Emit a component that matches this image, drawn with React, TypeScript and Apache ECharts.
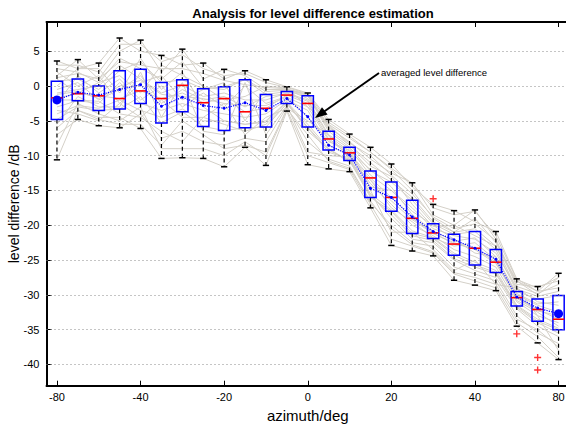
import React, { useEffect, useRef } from "react";
import * as echarts from "echarts";

const azimuths = ["-80","-70","-60","-50","-40","-35","-30","-25","-20","-15","-10","-5","0","5","10","15","20","25","30","35","40","50","60","70","80"];

const whiskerLow = [-10.6,-4.8,-5.7,-6.0,-6.1,-10.4,-10.3,-10.4,-11.6,-8.8,-11.4,-3.6,-11.3,-11.9,-12.3,-17.5,-22.9,-23.7,-24.4,-27.9,-28.6,-29.4,-34.5,-36.9,-39.3];
const quart1 = [-4.8,-2.1,-3.5,-3.3,-2.5,-5.3,-3.7,-5.8,-6.4,-6.0,-5.9,-2.5,-5.9,-9.2,-10.7,-16.0,-18.0,-21.2,-21.9,-24.3,-25.7,-26.8,-31.6,-33.8,-35.0];
const medians = [-1.7,-1.1,-1.4,-1.8,-0.7,-1.8,0.1,-2.4,-1.8,-3.7,-3.2,-1.3,-2.5,-7.6,-9.6,-13.2,-16.0,-19.0,-21.1,-22.7,-23.3,-25.3,-30.4,-32.1,-33.5];
const quart3 = [0.7,1.0,0.0,2.2,2.4,0.5,0.9,-0.4,-0.1,0.9,-1.2,-0.8,-1.4,-6.5,-8.8,-12.2,-13.8,-16.4,-19.8,-21.3,-20.9,-23.5,-29.5,-30.6,-30.1];
const whiskerHigh = [3.6,3.8,3.3,6.9,6.6,4.4,5.3,3.3,2.4,2.2,0.9,-0.1,-1.0,-4.8,-6.9,-8.8,-11.2,-13.9,-17.0,-17.9,-17.8,-20.9,-27.7,-28.8,-26.9];
const averaged = [-2.0,-0.9,-1.3,-0.5,0.2,-2.9,-1.6,-2.8,-3.2,-2.4,-3.5,-1.8,-4.4,-8.5,-9.9,-14.7,-16.0,-18.8,-20.9,-22.1,-23.3,-24.9,-30.3,-31.9,-32.7];
const outliers: [string, number][] = [["30",-16.2],["60",-35.6],["70",-39.0],["70",-40.8]];

const subjects: number[][] = [
  [3.6,2.5,3.3,6.9,5.0,4.4,3.0,3.3,1.0,2.2,0.9,-0.1,-1.0,-4.8,-6.9,-8.8,-11.2,-14.5,-17.0,-17.9,-19.5,-20.9,-27.7,-29.5,-26.9],
  [1.5,3.8,1.0,5.0,6.6,2.0,5.3,1.0,2.4,1.5,-0.5,-0.5,-1.2,-6.0,-8.0,-10.5,-12.5,-13.9,-18.5,-20.0,-17.8,-22.0,-28.5,-28.8,-28.0],
  [0.7,1.0,-0.5,2.2,3.5,0.5,0.9,-0.4,-0.1,0.9,-1.2,-0.8,-1.4,-6.5,-8.8,-12.2,-13.8,-16.4,-19.8,-21.3,-20.9,-23.5,-29.5,-30.6,-30.1],
  [-1.0,-0.5,0.0,3.0,1.0,-1.0,0.1,-1.5,-1.0,-2.0,-2.0,-1.0,-2.0,-7.0,-9.0,-12.8,-15.0,-17.5,-20.5,-21.5,-22.0,-24.0,-29.0,-31.0,-31.5],
  [-1.7,-1.1,-1.4,-1.8,-0.7,-1.8,-1.0,-2.4,-1.8,-3.7,-3.2,-1.3,-2.5,-7.6,-9.6,-13.2,-16.0,-19.0,-21.1,-22.7,-23.3,-25.3,-30.4,-32.1,-33.5],
  [-3.0,-2.1,-2.5,0.5,-2.5,-3.5,-2.5,-3.5,-4.0,-4.5,-4.0,-2.0,-3.5,-8.5,-10.0,-14.0,-17.0,-20.0,-21.5,-23.5,-24.5,-26.0,-31.0,-33.0,-34.0],
  [-4.8,-3.0,-3.5,-3.3,-1.5,-5.3,-3.7,-5.8,-6.4,-6.0,-5.9,-2.5,-5.9,-9.2,-10.7,-16.0,-18.0,-21.2,-21.9,-24.3,-25.7,-26.8,-31.6,-33.8,-35.0],
  [-7.0,-4.8,-5.7,-6.0,-4.0,-7.5,-6.5,-8.0,-8.5,-7.5,-8.0,-3.0,-8.0,-10.5,-11.5,-16.8,-20.0,-22.5,-23.0,-26.0,-27.0,-28.0,-33.0,-35.5,-37.0],
  [-10.6,-3.5,-4.5,-4.5,-6.1,-10.4,-10.3,-10.4,-11.6,-8.8,-11.4,-3.6,-11.3,-11.9,-12.3,-17.5,-22.9,-23.7,-24.4,-27.9,-28.6,-29.4,-34.5,-36.9,-39.3],
  [2.0,0.0,1.5,-2.5,0.5,1.5,-2.0,-0.5,0.5,-5.0,-0.5,-0.5,-1.8,-5.5,-7.5,-9.5,-12.0,-15.0,-19.0,-21.0,-19.0,-22.5,-28.0,-29.5,-29.0],
  [-2.5,1.5,-1.0,1.0,-2.0,0.0,-3.0,-1.0,-3.0,0.0,-2.5,-1.5,-4.5,-8.0,-9.2,-14.5,-15.0,-18.0,-20.0,-22.0,-24.0,-24.5,-30.0,-31.5,-32.5],
  [-5.5,-1.5,-3.0,-3.0,2.0,-4.5,0.5,-6.5,-7.0,0.5,-7.0,-2.8,-9.5,-10.0,-10.2,-15.5,-19.0,-22.0,-22.5,-25.0,-26.5,-27.5,-32.0,-34.5,-36.0],
  [0.0,2.5,2.5,-1.0,4.0,-0.5,2.0,-3.0,-5.0,-5.5,-5.0,-2.2,-6.5,-9.0,-11.0,-13.5,-17.5,-19.5,-21.8,-23.0,-22.5,-25.0,-30.8,-32.5,-34.5],
  [-3.5,-4.0,-5.0,-2.5,-4.5,-6.5,-8.0,-4.5,-2.5,-7.0,-4.5,-3.2,-5.0,-7.0,-10.5,-15.0,-21.0,-21.0,-23.5,-26.5,-25.0,-28.5,-29.0,-33.0,-38.0],
  [1.0,-1.0,0.5,1.5,-1.0,3.0,1.5,0.0,-2.0,-1.5,0.0,-0.3,-3.0,-5.5,-8.5,-11.5,-13.0,-17.0,-20.2,-20.0,-21.5,-23.0,-28.0,-30.0,-27.5],
  [-8.5,-2.5,-4.0,-5.0,-3.0,-9.0,-9.0,-9.0,-10.0,-8.0,-10.0,-3.4,-10.0,-11.0,-12.0,-17.0,-22.0,-23.0,-24.0,-27.0,-28.0,-29.0,-34.0,-36.0,-39.0],
  [3.0,3.0,2.0,6.0,6.0,3.5,4.5,2.5,1.5,1.8,0.5,-0.2,-1.1,-5.2,-7.2,-9.5,-11.8,-14.0,-17.5,-18.5,-18.0,-21.5,-27.8,-29.0,-27.5],
  [-0.5,0.5,-2.0,-0.5,1.5,-2.5,-0.5,-2.0,-1.5,-3.0,-1.5,-1.1,-2.2,-7.2,-9.4,-12.0,-14.5,-18.5,-20.8,-22.3,-21.8,-24.5,-29.8,-31.3,-31.0],
  [-2.0,-2.0,-2.2,-4.0,-4.5,-2.0,-4.5,-4.5,-5.5,-6.5,-5.5,-2.6,-6.0,-9.5,-10.5,-15.8,-18.5,-21.5,-22.2,-24.8,-26.0,-27.0,-31.8,-34.0,-35.5],
  [2.5,2.0,0.5,4.0,2.5,1.0,3.5,-0.2,-0.5,1.0,-0.8,-0.6,-1.3,-6.2,-8.5,-11.0,-13.5,-16.0,-19.5,-21.0,-20.5,-23.0,-29.2,-30.2,-29.5],
  [-6.0,-3.5,-4.8,-5.5,-5.5,-8.5,-5.0,-7.0,-9.0,-8.5,-9.5,-3.3,-7.0,-10.8,-11.8,-16.5,-20.5,-22.8,-23.8,-26.8,-27.5,-28.5,-33.5,-35.0,-37.5],
  [-1.2,-0.8,-1.8,0.0,0.8,-1.2,-1.5,-1.8,-2.5,-2.8,-2.8,-1.6,-3.0,-7.8,-9.8,-13.5,-16.5,-19.2,-21.2,-22.5,-23.5,-25.5,-30.5,-32.3,-33.0],
  [1.2,1.8,1.0,3.5,3.0,2.5,2.5,1.8,0.8,0.2,-0.2,-0.4,-1.2,-5.8,-8.2,-10.0,-12.8,-15.5,-18.8,-20.5,-19.8,-22.2,-28.8,-29.8,-28.5],
  [-4.0,-2.8,-3.2,-2.0,-3.5,-4.5,-3.3,-5.0,-5.0,-5.5,-5.2,-2.3,-5.5,-9.0,-10.8,-15.5,-17.8,-20.8,-21.8,-24.0,-25.3,-26.5,-31.5,-33.5,-34.8],
];

const yTicks = [-40,-35,-30,-25,-20,-15,-10,-5,0,5];

const FONT = "Liberation Sans";

export default function App() {
  const ref = useRef<HTMLDivElement>(null);
  useEffect(() => {
    document.body.style.margin = "0";
    if (!ref.current) return;
    const chart = echarts.init(ref.current, null, { renderer: "svg" });
    const boxes = azimuths.map((_, i) => [i, whiskerLow[i], quart1[i], medians[i], quart3[i], whiskerHigh[i]]);
    const catAxis = (top: boolean) => ({
      type: "category",
      data: azimuths,
      position: top ? "top" : "bottom",
      boundaryGap: true,
      axisLine: { show: true, onZero: false, lineStyle: { color: "#000", width: 2 } },
      axisTick: { show: true, inside: true, interval: 3, alignWithLabel: true, length: 5, lineStyle: { color: "#000", width: 1 } },
      axisLabel: top ? { show: false } : { interval: 3, color: "#000", fontSize: 11, margin: 6, fontFamily: FONT },
      splitLine: { show: false },
      name: top ? "" : "azimuth/deg",
      nameLocation: "middle",
      nameGap: 18,
      nameTextStyle: { fontSize: 15, color: "#000", fontFamily: FONT },
    });
    const series: any[] = subjects.map((s, k) => ({
      type: "line",
      data: s,
      symbol: "none",
      silent: true,
      z: 1,
      lineStyle: { color: "#d4d0c8", width: 1 },
      ...(k === 0
        ? {
            markLine: {
              silent: true,
              symbol: "none",
              label: { show: false },
              lineStyle: { color: "#8a8a8a", width: 1, type: [1, 3] },
              data: yTicks.map((v) => ({ yAxis: v })),
            },
          }
        : {}),
    }));
    series.push({
      type: "custom",
      data: boxes,
      z: 3,
      encode: { x: 0, y: [1, 2, 3, 4, 5] },
      renderItem: (_p: any, api: any) => {
        const x = api.value(0);
        const lo = api.coord([x, api.value(1)]);
        const b1 = api.coord([x, api.value(2)]);
        const md = api.coord([x, api.value(3)]);
        const b3 = api.coord([x, api.value(4)]);
        const hi = api.coord([x, api.value(5)]);
        const w = api.size([1, 0])[0];
        const hw = w * 0.27;
        const cw = w * 0.15;
        const cx = lo[0];
        const dash = { stroke: "#000", lineWidth: 1.2, lineDash: [4, 3] };
        const cap = { stroke: "#000", lineWidth: 1.5 };
        return {
          type: "group",
          children: [
            { type: "line", shape: { x1: cx, y1: hi[1], x2: cx, y2: b3[1] }, style: dash },
            { type: "line", shape: { x1: cx, y1: b1[1], x2: cx, y2: lo[1] }, style: dash },
            { type: "line", shape: { x1: cx - cw, y1: hi[1], x2: cx + cw, y2: hi[1] }, style: cap },
            { type: "line", shape: { x1: cx - cw, y1: lo[1], x2: cx + cw, y2: lo[1] }, style: cap },
            { type: "rect", shape: { x: cx - hw, y: b3[1], width: 2 * hw, height: b1[1] - b3[1] }, style: { fill: "none", stroke: "#0000ff", lineWidth: 1.5 } },
            { type: "line", shape: { x1: cx - hw, y1: md[1], x2: cx + hw, y2: md[1] }, style: { stroke: "#ff0000", lineWidth: 1.6 } },
          ],
        };
      },
    });
    series.push({
      type: "line",
      z: 4,
      data: averaged.map((v, i) => (i === 0 || i === averaged.length - 1 ? { value: v, symbolSize: 9 } : v)),
      symbol: "circle",
      symbolSize: 3,
      itemStyle: { color: "#0000ff" },
      lineStyle: { color: "#0000ff", width: 1.2, type: "dotted" },
      silent: true,
    });
    series.push({
      type: "scatter",
      z: 5,
      data: outliers,
      symbol: "path://M4 0H6V4H10V6H6V10H4V6H0V4H4Z",
      symbolSize: 7,
      itemStyle: { color: "#ff0000" },
    });
    chart.setOption({
      animation: false,
      backgroundColor: "#fff",
      textStyle: { fontFamily: FONT },
      title: {
        text: "Analysis for level difference estimation",
        left: 308,
        top: 2,
        textAlign: "center",
        textStyle: { fontSize: 13, fontWeight: "bold", color: "#000", fontFamily: FONT },
      },
      grid: { left: 46.5, right: -3, top: 22, bottom: 39.3, containLabel: false, outerBoundsMode: "none" },
      xAxis: [catAxis(false), catAxis(true)],
      yAxis: {
        type: "value",
        min: -43.05,
        max: 9.2,
        axisLine: { show: true, onZero: false, lineStyle: { color: "#000", width: 2 } },
        axisTick: { show: true, inside: true, length: 5, customValues: yTicks, lineStyle: { color: "#000" } },
        axisLabel: { customValues: yTicks, color: "#000", fontSize: 11, margin: 7, fontFamily: FONT },
        splitLine: { show: false },
        name: "level difference /dB",
        nameLocation: "middle",
        nameGap: 26,
        nameMoveOverlap: false,
        nameRotate: 90,
        nameTextStyle: { fontSize: 14, color: "#000", fontFamily: FONT },
      },
      series,
      graphic: [
        { type: "line", shape: { x1: 379, y1: 73, x2: 322, y2: 113 }, style: { stroke: "#000", lineWidth: 2 }, z: 10 },
        { type: "polygon", shape: { points: [[315, 118], [327.6, 114.6], [322.0, 107.2]] }, style: { fill: "#000" }, z: 10 },
        { type: "text", x: 381, y: 72, style: { text: "averaged level difference", fontSize: 9.5, fill: "#000", fontFamily: FONT, textVerticalAlign: "middle" }, z: 10 },
      ],
    });
    return () => chart.dispose();
  }, []);
  return <div ref={ref} style={{ width: 566, height: 425 }} />;
}
